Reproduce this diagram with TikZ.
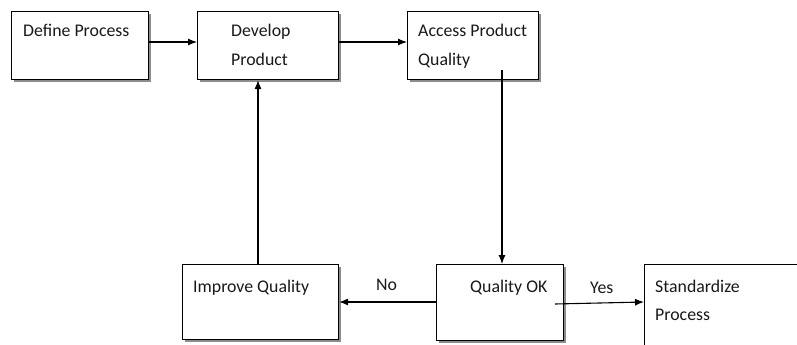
\documentclass[tikz,border=0pt]{standalone}
\usepackage{fontspec}
\setmainfont{Carlito}
\usetikzlibrary{arrows.meta,shadows}
\tikzset{
  box/.style={draw=black, line width=1.1pt, fill=white, rectangle, inner sep=0pt, anchor=north west,
    drop shadow={shadow xshift=2.5pt, shadow yshift=-2.5pt, fill=black!45, opacity=1}},
  lbl/.style={anchor=base west, inner sep=0pt, font=\fontsize{17.8}{20}\selectfont, text=black!90},
  conn/.style={line width=1.1pt, -{Latex[length=9pt,width=7pt]}},
}
\begin{document}
\begin{tikzpicture}[x=1pt,y=-1pt]
\useasboundingbox[fill=white] (0,0) rectangle (797,345);
% boxes
\node[box, minimum width=137pt, minimum height=68pt] (define) at (11,11) {};
\node[box, minimum width=141pt, minimum height=68pt] (develop) at (197,11) {};
\node[box, minimum width=131pt, minimum height=68pt] (access) at (407,11) {};
\node[box, minimum width=156pt, minimum height=75pt] (improve) at (182,264) {};
\node[box, minimum width=127pt, minimum height=76pt] (qok) at (436,264) {};
\node[box, minimum width=170pt, minimum height=100pt] (std) at (644,264) {};
% labels
\node[lbl] (t1) at (23,37) {Define Process};
\node[lbl] (t2a) at (231,37) {Develop};
\node[lbl] (t2b) at (231,66) {Product};
\node[lbl] (t3a) at (418,37) {Access Product};
\node[lbl] (t3b) at (418,66) {Quality};
\node[lbl] (t4) at (193,292) {Improve Quality};
\node[lbl] (t5) at (470,292) {Quality OK};
\node[lbl] (t6a) at (655,292) {Standardize};
\node[lbl] (t6b) at (655,320) {Process};
\node[lbl] (tno) at (376,290) {No};
\node[lbl] (tyes) at (590,293) {Yes};
% connectors
\coordinate (accessout) at (502,70);
\coordinate (qokout) at (555,304);
\draw[conn] (define.east |- 0,42) -- (develop.west |- 0,42);
\draw[conn] (develop.east |- 0,42) -- (access.west |- 0,42);
\draw[conn] (accessout) -- (accessout |- qok.north);
\draw[conn] (qok.west |- 0,302) -- (improve.east |- 0,302);
\draw[conn] (improve.north -| 258,0) -- (develop.south -| 258,0);
\draw[conn] (qokout) -- (std.west |- 0,302);
\end{tikzpicture}
\end{document}
